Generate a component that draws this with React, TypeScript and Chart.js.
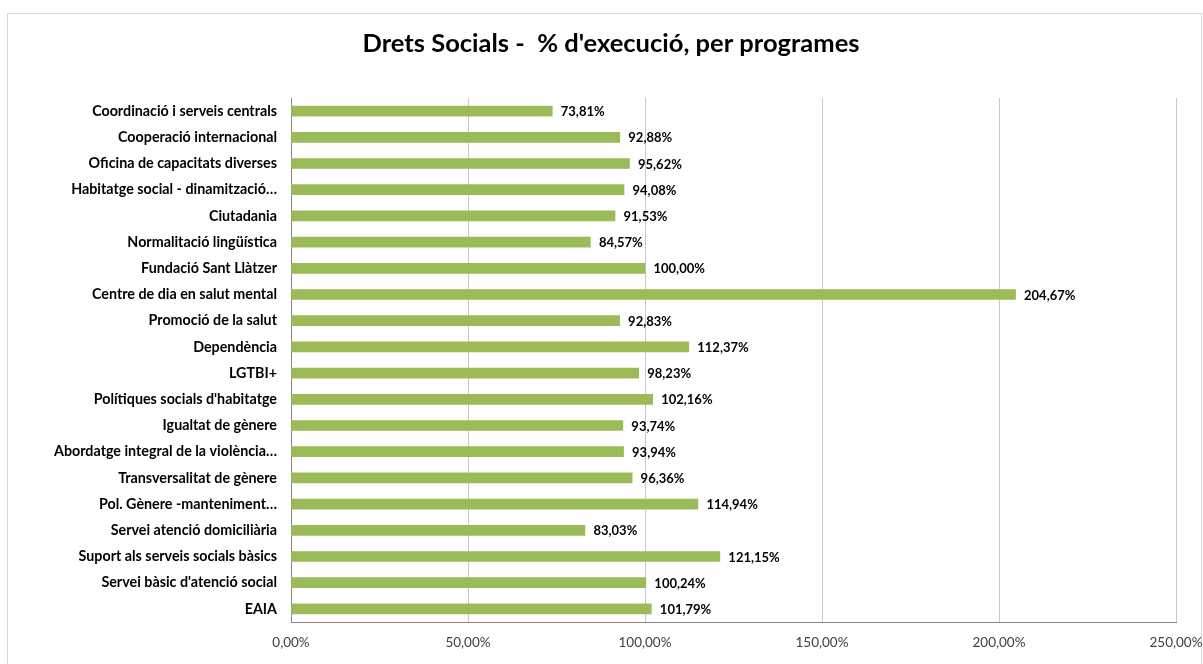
import React, { useEffect, useRef } from "react";
import { Chart, registerables } from "chart.js";

Chart.register(...registerables);

const TITLE = "Drets Socials -  % d'execució, per programes";

const categories = [
  "Coordinació i serveis centrals",
  "Cooperació internacional",
  "Oficina de capacitats diverses",
  "Habitatge social - dinamització…",
  "Ciutadania",
  "Normalitació lingüística",
  "Fundació Sant Llàtzer",
  "Centre de dia en salut mental",
  "Promoció de la salut",
  "Dependència",
  "LGTBI+",
  "Polítiques socials d'habitatge",
  "Igualtat de gènere",
  "Abordatge integral de la violència…",
  "Transversalitat de gènere",
  "Pol. Gènere -manteniment…",
  "Servei atenció domiciliària",
  "Suport als serveis socials bàsics",
  "Servei bàsic d'atenció social",
  "EAIA",
];

const execution = [
  73.81, 92.88, 95.62, 94.08, 91.53, 84.57, 100.0, 204.67, 92.83, 112.37,
  98.23, 102.16, 93.74, 93.94, 96.36, 114.94, 83.03, 121.15, 100.24, 101.79,
];

const xTicks = [0, 50, 100, 150, 200, 250];

const FONT = "Lato, 'Noto Sans', sans-serif";

const fmt = (v: number) => v.toFixed(2).replace(".", ",") + "%";

const framePlugin = {
  id: "frame",
  beforeDraw(chart: any) {
    const ctx = chart.ctx;
    ctx.save();
    ctx.fillStyle = "#ffffff";
    ctx.fillRect(0, 0, chart.width, chart.height);
    ctx.strokeStyle = "#d9d9d9";
    ctx.lineWidth = 1;
    ctx.strokeRect(7.5, 13.5, chart.width - 9, chart.height + 20);
    ctx.fillStyle = "#000000";
    ctx.font = `bold 25.5px ${FONT}`;
    ctx.textAlign = "center";
    ctx.textBaseline = "middle";
    ctx.fillText(TITLE, 611, 44);
    ctx.restore();
  },
  afterDatasetsDraw(chart: any) {
    const ctx = chart.ctx;
    const meta = chart.getDatasetMeta(0);
    ctx.save();
    ctx.fillStyle = "#000000";
    ctx.font = `bold 13px ${FONT}`;
    ctx.textAlign = "left";
    ctx.textBaseline = "middle";
    meta.data.forEach((bar: any, i: number) => {
      ctx.fillText(fmt(execution[i]), bar.x + 8.5, bar.y + 1);
    });
    ctx.restore();
  },
};

export default function App() {
  const ref = useRef<HTMLCanvasElement | null>(null);
  useEffect(() => {
    document.body.style.margin = "0";
    const chart = new Chart(ref.current as HTMLCanvasElement, {
      type: "bar",
      data: {
        labels: categories,
        datasets: [
          {
            data: execution,
            backgroundColor: "#9bbb59",
            borderWidth: 0,
            barThickness: 10,
          },
        ],
      },
      options: {
        indexAxis: "y",
        animation: false,
        responsive: false,
        layout: { padding: { top: 98, right: 27, left: 0, bottom: 0 } },
        plugins: { legend: { display: false }, tooltip: { enabled: false }, title: { display: false } },
        scales: {
          x: {
            min: 0,
            max: 250,
            afterBuildTicks: (scale: any) => {
              scale.ticks = xTicks.map((v) => ({ value: v }));
            },
            afterFit: (scale: any) => {
              scale.height = 42;
              scale.paddingRight = 0;
              scale.paddingLeft = 0;
            },
            grid: { color: "#c8c8c8", drawTicks: false },
            border: { color: "#868686" },
            ticks: {
              padding: 13,
              maxRotation: 0,
              color: "#404040",
              font: { family: FONT, size: 13.5 },
              callback: (v: any) => fmt(Number(v)),
            },
          },
          y: {
            afterFit: (scale: any) => {
              scale.width = 291;
            },
            grid: { display: false, drawTicks: false },
            border: { color: "#868686" },
            ticks: {
              padding: 14,
              autoSkip: false,
              color: "#000000",
              font: { family: FONT, size: 14.3, weight: "bold" },
            },
          },
        },
      },
      plugins: [framePlugin],
    });
    return () => chart.destroy();
  }, []);
  return (
    <div style={{ position: "absolute", left: 0, top: 0, width: 1203, height: 664 }}>
      <canvas ref={ref} width={1203} height={664} style={{ width: 1203, height: 664 }} />
    </div>
  );
}
